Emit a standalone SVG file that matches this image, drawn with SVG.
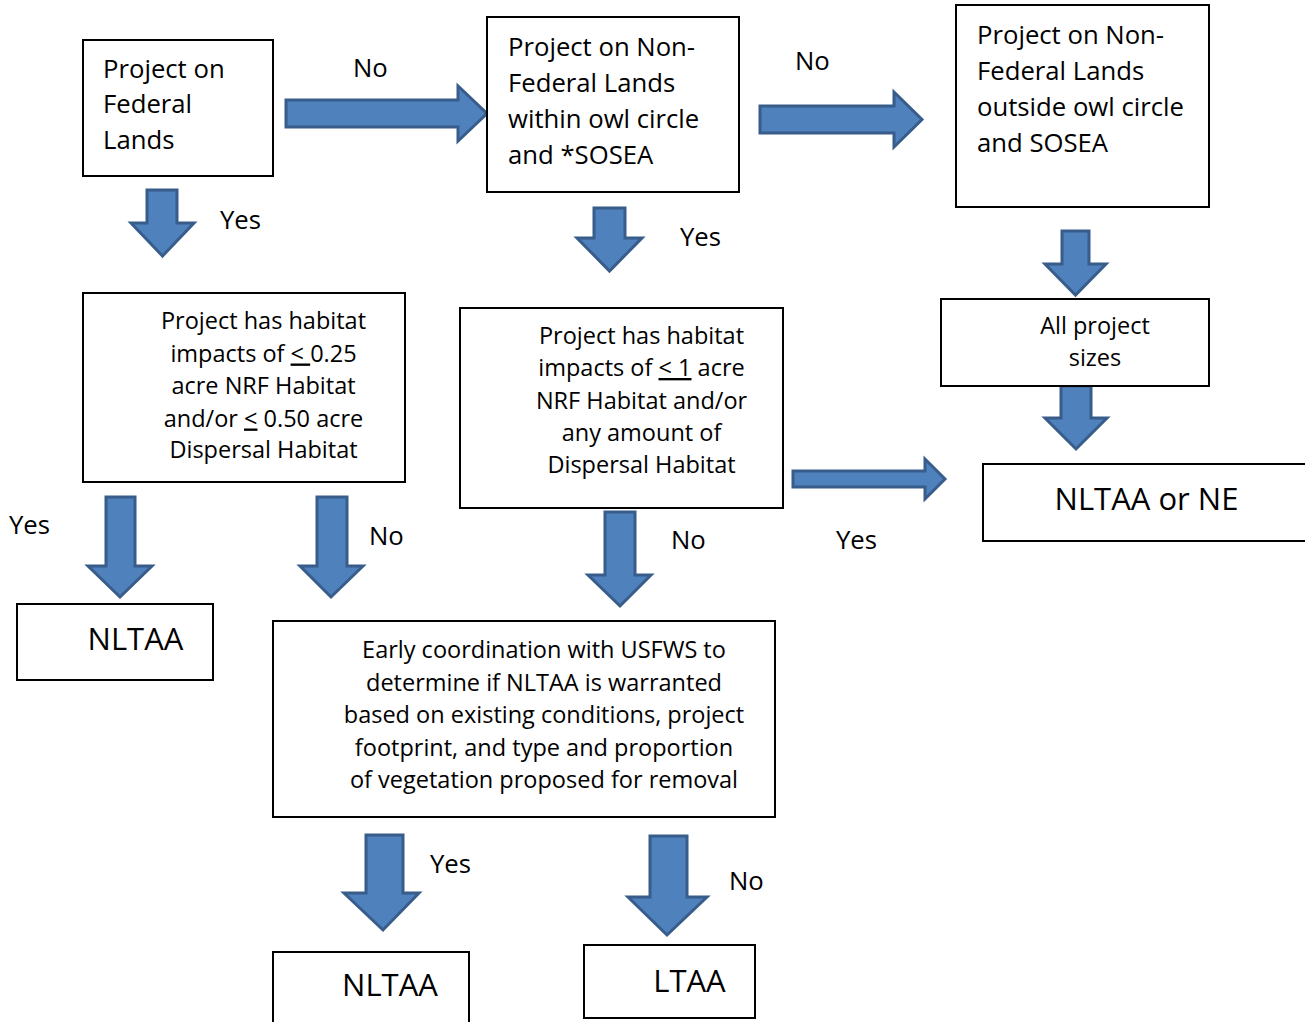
<svg xmlns="http://www.w3.org/2000/svg" width="1305" height="1022" viewBox="0 0 1305 1022">
<style>
.box{fill:#fff;stroke:#000;stroke-width:2}
.arr{fill:#4F81BD;stroke:#385D8A;stroke-width:3;stroke-linejoin:miter}
text{font-family:"Open Sans","Liberation Sans",sans-serif;fill:#000}
.t1{font-size:25.7px}
.t2{font-size:23.5px;text-anchor:middle}
.t3{font-size:31px;text-anchor:middle}
.lbl{font-size:25.7px}
.u{text-decoration:underline}
</style>
<rect width="1305" height="1022" fill="#fff"/>
<g id="connectors">
<path class="arr" d="M286,100 H458 V86 L487,113.5 L458,141 V127 H286 Z"/>
<path class="arr" d="M760,106 H894 V92 L922,119.5 L894,147 V133 H760 Z"/>
<path class="arr" d="M793,471 H925 V459 L945,479 L925,499 V487 H793 Z"/>
<path class="arr" d="M147,190 H177 V223 H194 L162.5,256 L131,223 H147 Z"/>
<path class="arr" d="M594,208 H625 V238 H642 L609.5,271 L577,238 H594 Z"/>
<path class="arr" d="M1062,231 H1089 V264 H1106 L1075.5,295 L1045,264 H1062 Z"/>
<path class="arr" d="M1061,386 H1091 V418 H1107 L1076,449 L1045,418 H1061 Z"/>
<path class="arr" d="M106,497 H135 V566 H152 L120,597 L88,566 H106 Z"/>
<path class="arr" d="M317,497 H347 V566 H363 L331,597 L300,566 H317 Z"/>
<path class="arr" d="M605,512 H635 V575 H651 L620,606 L588,575 H605 Z"/>
<path class="arr" d="M366,835 H403 V893 H419 L383,930 L344,893 H366 Z"/>
<path class="arr" d="M650,836 H687 V897 H707 L667,935 L628,897 H650 Z"/>
<text class="lbl" x="353" y="77">No</text>
<text class="lbl" x="795" y="70">No</text>
<text class="lbl" x="220" y="229">Yes</text>
<text class="lbl" x="680" y="246">Yes</text>
<text class="lbl" x="9" y="534">Yes</text>
<text class="lbl" x="369" y="545">No</text>
<text class="lbl" x="671" y="549">No</text>
<text class="lbl" x="836" y="549">Yes</text>
<text class="lbl" x="430" y="873">Yes</text>
<text class="lbl" x="729" y="890">No</text>
</g>
<g id="federal">
<rect class="box" x="83" y="40" width="190" height="136"/>
<text class="t1" x="103" y="78">Project on</text>
<text class="t1" x="103" y="113">Federal</text>
<text class="t1" x="103" y="149">Lands</text>
</g>
<g id="nonfed-within">
<rect class="box" x="487" y="17" width="252" height="175"/>
<text class="t1" x="508" y="56">Project on Non-</text>
<text class="t1" x="508" y="92">Federal Lands</text>
<text class="t1" x="508" y="128">within owl circle</text>
<text class="t1" x="508" y="164">and *SOSEA</text>
</g>
<g id="nonfed-outside">
<rect class="box" x="956" y="5" width="253" height="202"/>
<text class="t1" x="977" y="44">Project on Non-</text>
<text class="t1" x="977" y="80">Federal Lands</text>
<text class="t1" x="977" y="116">outside owl circle</text>
<text class="t1" x="977" y="152">and SOSEA</text>
</g>
<g id="habitat-federal">
<rect class="box" x="83" y="293" width="322" height="189"/>
<text class="t2" x="263.5" y="329">Project has habitat</text>
<text class="t2" x="263.5" y="361.5">impacts of <tspan class="u">&lt; </tspan>0.25</text>
<text class="t2" x="263.5" y="394">acre NRF Habitat</text>
<text class="t2" x="263.5" y="426.5">and/or <tspan class="u">&lt;</tspan> 0.50 acre</text>
<text class="t2" x="263.5" y="458">Dispersal Habitat</text>
</g>
<g id="habitat-nonfed">
<rect class="box" x="460" y="308" width="323" height="200"/>
<text class="t2" x="641.5" y="344">Project has habitat</text>
<text class="t2" x="641.5" y="376">impacts of <tspan class="u">&lt; 1</tspan> acre</text>
<text class="t2" x="641.5" y="409">NRF Habitat and/or</text>
<text class="t2" x="641.5" y="441">any amount of</text>
<text class="t2" x="641.5" y="473">Dispersal Habitat</text>
</g>
<g id="all-sizes">
<rect class="box" x="941" y="299" width="268" height="87"/>
<text class="t2" x="1095" y="334">All project</text>
<text class="t2" x="1095" y="366">sizes</text>
</g>
<g id="nltaa-ne">
<rect class="box" x="983" y="464" width="340" height="77"/>
<text class="t3" x="1146.5" y="510">NLTAA or NE</text>
</g>
<g id="nltaa-left">
<rect class="box" x="17" y="604" width="196" height="76"/>
<text class="t3" x="135.5" y="650">NLTAA</text>
</g>
<g id="early-coordination">
<rect class="box" x="273" y="621" width="502" height="196"/>
<text class="t2" x="544" y="658">Early coordination with USFWS to</text>
<text class="t2" x="544" y="690.5">determine if NLTAA is warranted</text>
<text class="t2" x="544" y="723">based on existing conditions, project</text>
<text class="t2" x="544" y="755.5">footprint, and type and proportion</text>
<text class="t2" x="544" y="788">of vegetation proposed for removal</text>
</g>
<g id="nltaa-bottom">
<rect class="box" x="273" y="952" width="196" height="90"/>
<text class="t3" x="390" y="996">NLTAA</text>
</g>
<g id="ltaa">
<rect class="box" x="584" y="945" width="171" height="73"/>
<text class="t3" x="689.5" y="992">LTAA</text>
</g>
</svg>
